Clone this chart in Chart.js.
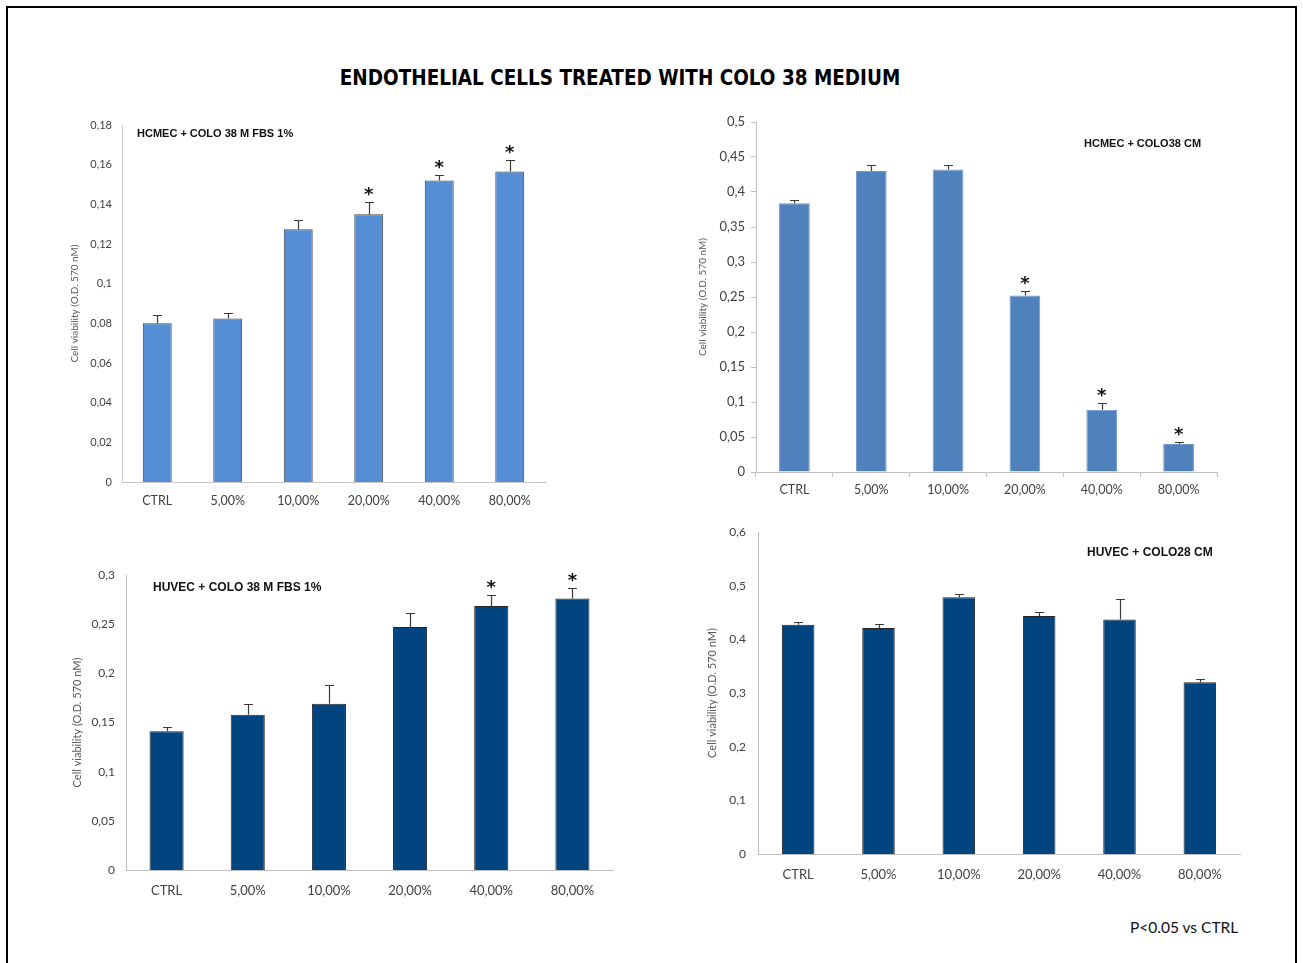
<!DOCTYPE html>
<html>
<head>
<meta charset="utf-8">
<title>Endothelial cells treated with COLO 38 medium</title>
<script src="https://cdn.jsdelivr.net/npm/chart.js@4.4.1/dist/chart.umd.min.js"></script>
<style>
  body { margin: 0; background: #fff; width: 1303px; height: 963px; overflow: hidden; position: relative; font-family: Lato, sans-serif; }
  .frame { position: absolute; left: 6px; top: 6px; width: 1287px; height: 1000px; border: 2px solid #000; }
  canvas { position: absolute; }
  .txt { position: absolute; white-space: nowrap; line-height: 1; }
  .main-title { left: 0; width: 1240px; top: 65px; text-align: center; font: bold 22px "DejaVu Sans Condensed", "DejaVu Sans", sans-serif; color: #000; transform: scaleX(0.93); transform-origin: 620px 0; }
  .panel-title { font-family: "Liberation Sans", Arial, sans-serif; font-weight: bold; color: #111; }
  .note { left: 1130px; top: 918px; font: 15.5px Lato, sans-serif; color: #111; }
</style>
</head>
<body>
<div class="frame"></div>
<div class="txt main-title">ENDOTHELIAL CELLS TREATED WITH COLO 38 MEDIUM</div>

<canvas id="hcmecFbs"></canvas>
<canvas id="hcmecCm"></canvas>
<canvas id="huvecFbs"></canvas>
<canvas id="huvecCm"></canvas>

<div class="txt panel-title" style="left:137px; top:128px; font-size:11px;">HCMEC + COLO 38 M FBS 1%</div>
<div class="txt panel-title" style="left:1084px; top:138px; font-size:11px;">HCMEC + COLO38 CM</div>
<div class="txt panel-title" style="left:153px; top:581px; font-size:12px;">HUVEC + COLO 38 M FBS 1%</div>
<div class="txt panel-title" style="left:1087px; top:546px; font-size:12px;">HUVEC + COLO28 CM</div>
<div class="txt note">P&lt;0.05 vs CTRL</div>

<script>
// categories shared by all four panels
const categories = ["CTRL", "5,00%", "10,00%", "20,00%", "40,00%", "80,00%"];
const yTitle = "Cell viability (O.D. 570 nM)";

// HCMEC + COLO 38 M FBS 1%
const hcmecFbsMeans = [0.080, 0.0825, 0.1275, 0.135, 0.152, 0.1565];
const hcmecFbsErrors = [0.004, 0.0026, 0.0045, 0.0063, 0.003, 0.006];
const hcmecFbsSig = [false, false, false, true, true, true];
const hcmecFbsTicks = [0, 0.02, 0.04, 0.06, 0.08, 0.1, 0.12, 0.14, 0.16, 0.18];

// HCMEC + COLO38 CM
const hcmecCmMeans = [0.384, 0.430, 0.432, 0.252, 0.089, 0.040];
const hcmecCmErrors = [0.005, 0.009, 0.007, 0.007, 0.009, 0.0033];
const hcmecCmSig = [false, false, false, true, true, true];
const hcmecCmTicks = [0, 0.05, 0.1, 0.15, 0.2, 0.25, 0.3, 0.35, 0.4, 0.45, 0.5];

// HUVEC + COLO 38 M FBS 1%
const huvecFbsMeans = [0.141, 0.158, 0.169, 0.247, 0.2685, 0.276];
const huvecFbsErrors = [0.0045, 0.011, 0.019, 0.0145, 0.011, 0.0105];
const huvecFbsSig = [false, false, false, false, true, true];
const huvecFbsTicks = [0, 0.05, 0.1, 0.15, 0.2, 0.25, 0.3];

// HUVEC + COLO28 CM
const huvecCmMeans = [0.427, 0.421, 0.4785, 0.4435, 0.437, 0.320];
const huvecCmErrors = [0.006, 0.007, 0.0055, 0.007, 0.038, 0.007];
const huvecCmSig = [false, false, false, false, false, false];
const huvecCmTicks = [0, 0.1, 0.2, 0.3, 0.4, 0.5, 0.6];

function formatTick(v) {
  return String(v).replace(".", ",");
}

// draws the upper error bar and the significance star for each bar
const errorBarPlugin = {
  id: "errorBars",
  afterDatasetsDraw(chart, args, opts) {
    const ctx = chart.ctx;
    const meta = chart.getDatasetMeta(0);
    const yScale = chart.scales.y;
    ctx.save();
    ctx.strokeStyle = opts.color;
    ctx.lineWidth = 1.2;
    meta.data.forEach((bar, i) => {
      const mean = opts.means[i];
      const x = Math.round(bar.x) + 0.5;
      const y0 = yScale.getPixelForValue(mean);
      const y1 = Math.round(yScale.getPixelForValue(mean + opts.errors[i])) + 0.5;
      ctx.beginPath();
      ctx.moveTo(x, y0);
      ctx.lineTo(x, y1);
      ctx.moveTo(x - opts.cap, y1);
      ctx.lineTo(x + opts.cap, y1);
      ctx.stroke();
      if (opts.sig[i]) {
        ctx.fillStyle = "#111";
        ctx.font = "bold 18px 'DejaVu Sans'";
        ctx.textAlign = "center";
        ctx.textBaseline = "alphabetic";
        ctx.fillText("*", bar.x, y1 - 3);
      }
    });
    ctx.restore();
  },
};

// chart area top is kept at 20px inside every canvas (the y tick padding
// would otherwise push it down), so canvases are placed 20px above the plot
function makeChart(id, cfg) {
  const canvas = document.getElementById(id);
  canvas.width = cfg.width;
  canvas.height = cfg.height;
  canvas.style.left = cfg.left + "px";
  canvas.style.top = cfg.top + "px";

  const tickLen = cfg.drawTicks ? 5 : 0;

  return new Chart(canvas.getContext("2d"), {
    type: "bar",
    data: {
      labels: categories,
      datasets: [
        {
          data: cfg.means,
          backgroundColor: cfg.fill,
          borderColor: cfg.border,
          borderWidth: { top: 1, left: 1, right: 1, bottom: 0 },
          borderSkipped: "start",
          barPercentage: cfg.barPct,
          categoryPercentage: 1,
        },
      ],
    },
    options: {
      responsive: false,
      animation: false,
      layout: { padding: { top: 20, right: 10, left: 0, bottom: 0 } },
      plugins: {
        legend: { display: false },
        tooltip: { enabled: false },
        errorBars: {
          means: cfg.means,
          errors: cfg.errors,
          sig: cfg.sig,
          color: "#3a3a3a",
          cap: 4.5,
        },
      },
      scales: {
        x: {
          grid: {
            display: cfg.drawTicks,
            drawOnChartArea: false,
            drawTicks: cfg.drawTicks,
            tickLength: tickLen,
            color: "#bfbfbf",
            offset: true,
          },
          border: { display: true, color: cfg.axisColor, width: 1 },
          ticks: {
            color: "#404040",
            font: { family: "Lato", size: cfg.catFont },
            padding: cfg.xPad,
            maxRotation: 0,
            autoSkip: false,
          },
          afterFit: (scale) => {
            scale.height = 45;
          },
        },
        y: {
          min: 0,
          max: cfg.ticks[cfg.ticks.length - 1],
          grid: {
            display: cfg.drawTicks,
            drawOnChartArea: false,
            drawTicks: cfg.drawTicks,
            tickLength: tickLen,
            color: "#bfbfbf",
          },
          border: { display: true, color: cfg.axisColor, width: 1 },
          ticks: {
            color: "#404040",
            font: { family: "Lato", size: cfg.tickFont },
            padding: cfg.yPad,
            callback: (v) => formatTick(v),
          },
          afterBuildTicks: (scale) => {
            scale.ticks = cfg.ticks.map((v) => ({ value: v }));
          },
          afterFit: (scale) => {
            scale.width = 70;
          },
          title: {
            display: true,
            text: yTitle,
            color: "#595959",
            font: { family: "Lato", size: cfg.titleFont },
            padding: { top: cfg.titlePad, bottom: 0 },
          },
        },
      },
    },
    plugins: [errorBarPlugin],
  });
}

makeChart("hcmecFbs", {
  left: 52, top: 105, width: 503, height: 422,
  means: hcmecFbsMeans, errors: hcmecFbsErrors, sig: hcmecFbsSig, ticks: hcmecFbsTicks,
  fill: "#558ed5", border: "#404040", axisColor: "#c8c8c8", barPct: 0.41,
  drawTicks: false, tickFont: 11, catFont: 12.5, titleFont: 10, titlePad: 17,
  yPad: 10, xPad: 11,
});

makeChart("hcmecCm", {
  left: 686, top: 102, width: 541, height: 415,
  means: hcmecCmMeans, errors: hcmecCmErrors, sig: hcmecCmSig, ticks: hcmecCmTicks,
  fill: "#4f81bd", border: "#6f98cc", axisColor: "#bfbfbf", barPct: 0.40,
  drawTicks: true, tickFont: 13, catFont: 12.5, titleFont: 10, titlePad: 11,
  yPad: 6, xPad: 5,
});

makeChart("huvecFbs", {
  left: 56, top: 555, width: 567, height: 360,
  means: huvecFbsMeans, errors: huvecFbsErrors, sig: huvecFbsSig, ticks: huvecFbsTicks,
  fill: "#00457f", border: "#262626", axisColor: "#bfbfbf", barPct: 0.42,
  drawTicks: false, tickFont: 12, catFont: 13, titleFont: 11, titlePad: 15,
  yPad: 11, xPad: 13,
});

makeChart("huvecCm", {
  left: 688, top: 512, width: 562, height: 387,
  means: huvecCmMeans, errors: huvecCmErrors, sig: huvecCmSig, ticks: huvecCmTicks,
  fill: "#00457f", border: "#262626", axisColor: "#bfbfbf", barPct: 0.405,
  drawTicks: false, tickFont: 12, catFont: 13, titleFont: 11, titlePad: 18,
  yPad: 12, xPad: 13,
});
</script>
</body>
</html>
